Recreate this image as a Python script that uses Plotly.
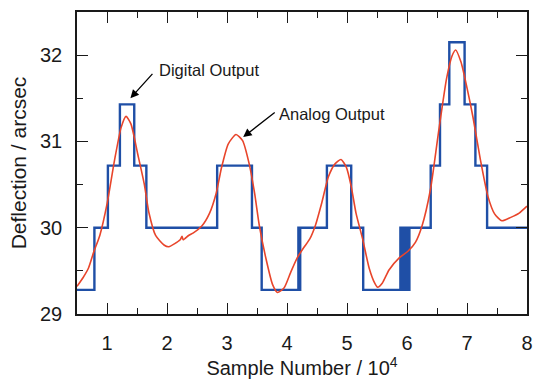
import plotly.graph_objects as go

# ---- data ----
L0, L1, L2, L3, L4 = 29.28, 30.0, 30.72, 31.43, 32.15

digital_x = [0.5, 0.79, 1.015, 1.215, 1.454, 1.656, 2.836, 3.416, 3.578,
             4.19, 4.197, 4.204, 4.211, 4.22,
             4.665, 5.07, 5.27,
             5.89, 5.905, 5.92, 5.935, 5.95, 5.965, 5.98, 5.995, 6.01, 6.025, 6.04,
             6.395, 6.55, 6.705, 6.96, 7.14, 7.335, 8.0]
digital_y = [L0, L1, L2, L3, L2, L1, L2, L1, L0,
             L1, L0, L1, L0, L1,
             L2, L1, L0,
             L1, L0, L1, L0, L1, L0, L1, L0, L1, L0, L1,
             L2, L3, L4, L3, L2, L1, L1]

analog_x = [0.5, 0.6, 0.69, 0.78, 0.88, 1.005, 1.125, 1.235, 1.317, 1.40, 1.51, 1.62,
            1.70, 1.81, 1.95, 2.03, 2.22, 2.25, 2.27, 2.36, 2.44, 2.58, 2.71, 2.82,
            2.91, 3.02, 3.15, 3.26, 3.37, 3.46, 3.54, 3.65, 3.76, 3.84, 3.95, 4.06,
            4.17, 4.28, 4.38, 4.47, 4.58, 4.69, 4.80, 4.90, 4.99, 5.07, 5.15, 5.26,
            5.37, 5.46, 5.51, 5.59, 5.70, 5.87, 6.02, 6.14, 6.25, 6.39, 6.52, 6.66,
            6.75, 6.81, 6.90, 7.00, 7.10, 7.22, 7.35, 7.46, 7.58, 7.73, 7.87, 8.0]
analog_y = [29.32, 29.42, 29.53, 29.72, 29.91, 30.29, 30.78, 31.16, 31.29, 31.20, 30.86, 30.51,
            30.17, 29.91, 29.80, 29.78, 29.86, 29.90, 29.86, 29.91, 29.94, 30.02, 30.17, 30.40,
            30.70, 30.97, 31.08, 31.01, 30.74, 30.40, 30.02, 29.64, 29.34, 29.25, 29.30, 29.48,
            29.65, 29.77, 29.87, 30.02, 30.29, 30.59, 30.74, 30.79, 30.70, 30.48, 30.17, 29.87,
            29.53, 29.36, 29.31, 29.36, 29.51, 29.65, 29.73, 29.83, 30.02, 30.44, 31.08, 31.73,
            31.99, 32.06, 31.92, 31.62, 31.28, 30.80, 30.36, 30.16, 30.08, 30.12, 30.17, 30.25]

x_ticks = [1, 2, 3, 4, 5, 6, 7, 8]
y_ticks = [29, 30, 31, 32]

BLUE = "#1f4fa6"
RED = "#e8452b"
INK = "#1a1a1a"
FONT = "Liberation Sans, Arial, sans-serif"

fig = go.Figure()
fig.add_trace(go.Scatter(x=digital_x, y=digital_y, mode="lines",
                         line=dict(shape="hv", color=BLUE, width=2.4),
                         showlegend=False, hoverinfo="skip"))
fig.add_trace(go.Scatter(x=analog_x, y=analog_y, mode="lines",
                         line=dict(shape="spline", smoothing=0.6, color=RED, width=1.6),
                         showlegend=False, hoverinfo="skip"))

axis_common = dict(showgrid=False, zeroline=False, showline=True, linecolor=INK,
                   linewidth=1.6, mirror="ticks", ticks="inside", ticklen=11,
                   tickwidth=1.4, tickcolor=INK,
                   tickfont=dict(family=FONT, size=20, color=INK))

fig.update_xaxes(range=[0.5, 8], tickvals=x_ticks, ticktext=[str(v) for v in x_ticks],
                 ticklabelstandoff=10,
                 minor=dict(ticks="inside", ticklen=6, tickwidth=1.4, tickcolor=INK, dtick=0.5,
                            tick0=0.5),
                 title=dict(text="Sample Number / 10<sup>4</sup>",
                            font=dict(family=FONT, size=20, color=INK), standoff=4),
                 **axis_common)
fig.update_yaxes(range=[29, 32.5], tickvals=y_ticks, ticktext=[str(v) for v in y_ticks],
                 ticklabelstandoff=9,
                 minor=dict(ticks="inside", ticklen=6, tickwidth=1.4, tickcolor=INK, dtick=0.5,
                            tick0=29),
                 title=dict(text="Deflection / arcsec",
                            font=dict(family=FONT, size=21, color=INK), standoff=8),
                 **axis_common)

# arrows: line shapes plus arrowheads drawn by annotations anchored at the text labels
fig.add_annotation(x=1.39, y=31.5, ax=1.78, ay=31.80, xref="x", yref="y",
                   axref="x", ayref="y", text="", showarrow=True, arrowhead=2,
                   arrowsize=1.3, arrowwidth=1.3, arrowcolor="black")
fig.add_annotation(x=3.27, y=31.05, ax=3.82, ay=31.35, xref="x", yref="y",
                   axref="x", ayref="y", text="", showarrow=True, arrowhead=2,
                   arrowsize=1.3, arrowwidth=1.3, arrowcolor="black")
fig.add_annotation(x=1.84, y=31.83, xref="x", yref="y", text="Digital Output",
                   showarrow=False, xanchor="left", yanchor="middle",
                   font=dict(family=FONT, size=16.5, color=INK))
fig.add_annotation(x=3.84, y=31.32, xref="x", yref="y", text="Analog Output",
                   showarrow=False, xanchor="left", yanchor="middle",
                   font=dict(family=FONT, size=16.5, color=INK))

fig.update_layout(width=540, height=379, margin=dict(l=77, r=7, t=12, b=59),
                  paper_bgcolor="white", plot_bgcolor="white")

fig.write_html("out.html")
